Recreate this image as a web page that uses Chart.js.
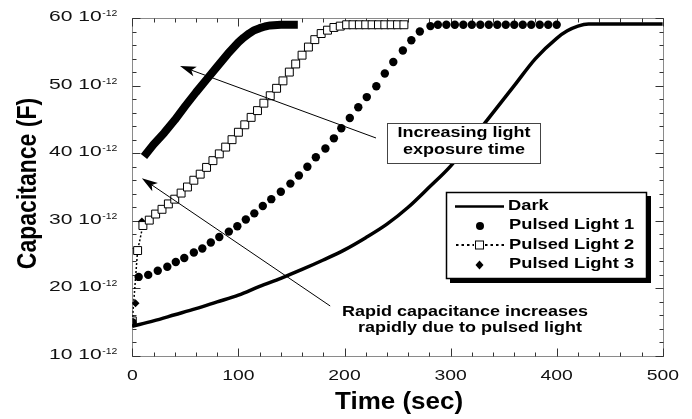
<!DOCTYPE html>
<html>
<head>
<meta charset="utf-8">
<title>Capacitance vs time</title>
<script src="https://cdn.jsdelivr.net/npm/chart.js@4.4.1/dist/chart.umd.min.js"></script>
<style>
  html, body { margin: 0; padding: 0; background: #fff; }
  #wrap { width: 692px; height: 419px; }
</style>
</head>
<body>
<div id="wrap"><canvas id="capChart" width="692" height="419"></canvas></div>
<script>
// capacitance in units of 10^-12 F, time in sec
const darkTime = [0, 20, 40, 60, 80, 100, 120, 140, 160, 180, 200, 220, 240, 260, 280, 300, 320, 340, 360, 380, 400, 410, 420, 430, 500];
const darkCap  = [14.4, 15.2, 16.1, 17.0, 18.0, 19.0, 20.3, 21.5, 22.8, 24.2, 25.7, 27.5, 29.5, 32.0, 35.0, 38.1, 42.0, 46.0, 50.0, 54.0, 57.0, 58.1, 58.8, 59.1, 59.1];

const pulse1Time = [0, 6, 15, 24, 33, 41, 49, 58, 66, 74, 82, 91, 99, 107, 115, 123, 131, 140, 149, 157, 165, 173, 182, 190, 197,
                    205, 213, 221, 230, 238, 246, 255, 263, 271, 281, 288, 296, 304, 312, 320, 328, 336, 344, 352, 360, 368, 376, 384, 392, 400];
const pulse1Cap  = [15.0, 21.7, 22.0, 22.6, 23.2, 23.9, 24.5, 25.3, 25.9, 26.8, 27.6, 28.4, 29.2, 30.2, 31.1, 32.2, 33.2, 34.3, 35.5, 36.7, 38.0, 39.4, 40.7, 42.2, 43.7,
                    45.2, 46.8, 48.3, 49.9, 51.8, 53.5, 55.2, 56.7, 58.0, 58.8, 59.0, 59.0, 59.0, 59.0, 59.0, 59.0, 59.0, 59.0, 59.0, 59.0, 59.0, 59.0, 59.0, 59.0, 59.0];

const pulse2Time = [0, 5, 10, 16, 22, 28, 34, 40, 46, 52, 58, 64, 70, 76, 82, 88, 94, 100, 106, 112, 118, 124, 130, 136, 142, 148,
                    154, 160, 166, 172, 178, 184, 190, 196, 202, 208, 214, 220, 226, 232, 238, 244, 250, 256];
const pulse2Cap  = [15.2, 25.6, 29.3, 30.1, 31.0, 31.7, 32.5, 33.2, 34.1, 35.0, 36.0, 36.9, 37.9, 38.9, 39.9, 40.9, 42.0, 43.1, 44.2, 45.3, 46.3, 47.4, 48.5, 49.6, 50.7, 52.0,
                    53.2, 54.5, 55.7, 56.8, 57.7, 58.2, 58.6, 58.8, 59.0, 59.0, 59.0, 59.0, 59.0, 59.0, 59.0, 59.0, 59.0, 59.0];

const pulse3Time = [0, 3, 9, 11, 20, 30, 40, 50, 60, 70, 80, 90, 100, 105, 110, 115, 120, 125, 130, 140, 156];
const pulse3Cap  = [14.8, 17.8, 29.9, 39.5, 41.3, 43.0, 44.9, 47.0, 49.0, 50.9, 52.8, 54.7, 56.4, 57.1, 57.7, 58.2, 58.5, 58.75, 58.9, 59.0, 59.0];

const xTickValues = [0, 100, 200, 300, 400, 500];
const yTickValues = [10, 20, 30, 40, 50, 60];
const seriesNames = ['Dark', 'Pulsed Light 1', 'Pulsed Light 2', 'Pulsed Light 3'];

const FONT = '"Liberation Sans", Arial, Helvetica, sans-serif';

function toPoints(times, values) {
    return times.map((t, i) => ({ x: t, y: values[i] }));
}

// the scanned original is stretched sideways, so text gets an x scale
function stretchText(ctx, text, x, y, size, weight, sx, align) {
    ctx.save();
    ctx.translate(x, y);
    ctx.scale(sx, 1);
    ctx.font = weight + ' ' + size + 'px ' + FONT;
    ctx.textAlign = align;
    ctx.textBaseline = 'alphabetic';
    ctx.fillText(text, 0, 0);
    ctx.restore();
}

function drawArrow(ctx, x0, y0, x1, y1) {
    const ang = Math.atan2(y1 - y0, x1 - x0);
    ctx.beginPath();
    ctx.moveTo(x0, y0);
    ctx.lineTo(x1 - 10 * Math.cos(ang), y1 - 10 * Math.sin(ang));
    ctx.stroke();
    // head
    ctx.save();
    ctx.translate(x1, y1);
    ctx.rotate(ang);
    ctx.beginPath();
    ctx.moveTo(0, 0);
    ctx.lineTo(-16, -5);
    ctx.lineTo(-12, 0);
    ctx.lineTo(-16, 5);
    ctx.closePath();
    ctx.fill();
    ctx.restore();
}

// frame with inward ticks on all four sides, tick labels and axis titles
function drawAxes(chart) {
    const { ctx, chartArea: a, scales: { x, y } } = chart;
    const L = Math.round(a.left) + 0.5, R = Math.round(a.right) + 0.5;
    const T = Math.round(a.top) + 0.5, B = Math.round(a.bottom) + 0.5;
    ctx.save();
    ctx.strokeStyle = '#8a8a8a';
    ctx.lineWidth = 1;
    ctx.strokeRect(L, T, R - L, B - T);

    ctx.strokeStyle = '#333';
    ctx.beginPath();
    for (let v = 0; v <= 500; v += 20) {
        const px = Math.round(x.getPixelForValue(v)) + 0.5;
        const len = v % 100 === 0 ? 8 : 4;
        ctx.moveTo(px, B); ctx.lineTo(px, B - len);
        ctx.moveTo(px, T); ctx.lineTo(px, T + len);
    }
    for (let v = 10; v <= 60; v += 2) {
        const py = Math.round(y.getPixelForValue(v)) + 0.5;
        const len = v % 10 === 0 ? 8 : 4;
        ctx.moveTo(L, py); ctx.lineTo(L + len, py);
        ctx.moveTo(R, py); ctx.lineTo(R - len, py);
    }
    ctx.stroke();

    ctx.fillStyle = '#111';
    xTickValues.forEach(v => {
        stretchText(ctx, String(v), x.getPixelForValue(v), a.bottom + 23.5, 15.5, 'normal', 1.25, 'center');
    });
    yTickValues.forEach(v => {
        const py = y.getPixelForValue(v) + 3;
        const right = a.left - 15;
        ctx.font = 'normal 9.5px ' + FONT;
        const supW = ctx.measureText('-12').width * 1.1;
        stretchText(ctx, '-12', right - supW, py - 5, 9.5, 'normal', 1.1, 'left');
        stretchText(ctx, v + ' 10', right - supW - 0.5, py, 15.5, 'normal', 1.36, 'right');
    });

    ctx.fillStyle = '#000';
    stretchText(ctx, 'Time (sec)', (a.left + a.right) / 2 + 1.5, a.bottom + 52.5, 23, 'bold', 1.13, 'center');

    // rotated y title
    ctx.save();
    ctx.translate(36, (a.top + a.bottom) / 2 - 3.5);
    ctx.scale(1.21, 1);
    ctx.rotate(-Math.PI / 2);
    ctx.font = 'bold 23px ' + FONT;
    ctx.textAlign = 'center';
    ctx.textBaseline = 'alphabetic';
    ctx.fillText('Capacitance (F)', 0, 0);
    ctx.restore();
    ctx.restore();
}

// arrows, notes and the boxed legend
function drawNotes(chart) {
    const { ctx, scales: { x, y } } = chart;
    ctx.save();
    ctx.strokeStyle = '#000';
    ctx.fillStyle = '#000';
    ctx.lineWidth = 1;
    drawArrow(ctx, x.getPixelForValue(229.7), y.getPixelForValue(42.25), x.getPixelForValue(45), y.getPixelForValue(52.9));
    drawArrow(ctx, x.getPixelForValue(186.5), y.getPixelForValue(17.4), x.getPixelForValue(9), y.getPixelForValue(36.3));

    // "Increasing light exposure time" box
    ctx.fillStyle = '#fff';
    ctx.fillRect(387, 123, 154, 41);
    ctx.strokeStyle = '#444';
    ctx.strokeRect(387.5, 123.5, 153, 40);
    ctx.fillStyle = '#000';
    stretchText(ctx, 'Increasing light', 464, 136.5, 15, 'bold', 1.2, 'center');
    stretchText(ctx, 'exposure time', 464, 154, 15, 'bold', 1.2, 'center');

    stretchText(ctx, 'Rapid capacitance increases', 465, 316, 15, 'bold', 1.2, 'center');
    stretchText(ctx, 'rapidly due to pulsed light', 470, 332, 15, 'bold', 1.2, 'center');

    // legend box with heavy shadow
    ctx.fillStyle = '#000';
    ctx.fillRect(450, 196, 201, 87);
    ctx.fillStyle = '#fff';
    ctx.fillRect(446, 192, 201, 87);
    ctx.strokeStyle = '#000';
    ctx.lineWidth = 1.5;
    ctx.strokeRect(446.5, 192.5, 200, 86);

    const rows = [206.5, 226, 245, 265];
    const base = [210, 229, 248.5, 267.5];
    ctx.fillStyle = '#000';
    ctx.lineWidth = 2.5;
    ctx.beginPath();
    ctx.moveTo(455, rows[0]); ctx.lineTo(504, rows[0]);
    ctx.stroke();

    ctx.beginPath();
    ctx.arc(480, rows[1], 4, 0, Math.PI * 2);
    ctx.fill();

    ctx.lineWidth = 2;
    ctx.setLineDash([2.5, 3]);
    ctx.beginPath();
    ctx.moveTo(456, rows[2]); ctx.lineTo(474, rows[2]);
    ctx.moveTo(485, rows[2]); ctx.lineTo(506, rows[2]);
    ctx.stroke();
    ctx.setLineDash([]);
    ctx.lineWidth = 1;
    ctx.fillStyle = '#fff';
    ctx.fillRect(475.5, rows[2] - 4, 8, 8);
    ctx.strokeRect(475.5, rows[2] - 4, 8, 8);

    ctx.fillStyle = '#000';
    ctx.beginPath();
    ctx.moveTo(479.5, rows[3] - 4.5);
    ctx.lineTo(483.5, rows[3]);
    ctx.lineTo(479.5, rows[3] + 4.5);
    ctx.lineTo(475.5, rows[3]);
    ctx.closePath();
    ctx.fill();

    seriesNames.forEach((name, i) => {
        stretchText(ctx, name, i === 0 ? 508 : 509, base[i], 15, 'bold', 1.22, 'left');
    });
    ctx.restore();
}

const notesPlugin = {
    id: 'notes',
    beforeDatasetsDraw(chart) { drawAxes(chart); },
    afterDatasetsDraw(chart) { drawNotes(chart); }
};

const ctx = document.getElementById('capChart').getContext('2d');
const capChart = new Chart(ctx, {
    type: 'line',
    data: {
        datasets: [
            {
                label: seriesNames[0],
                data: toPoints(darkTime, darkCap),
                borderColor: '#000',
                borderWidth: 3.5,
                pointRadius: 0,
                cubicInterpolationMode: 'monotone'
            },
            {
                label: seriesNames[1],
                data: toPoints(pulse1Time, pulse1Cap),
                showLine: false,
                pointStyle: 'circle',
                pointRadius: 4.2,
                pointBackgroundColor: '#000',
                pointBorderColor: '#000',
                pointBorderWidth: 0
            },
            {
                label: seriesNames[2],
                data: toPoints(pulse2Time, pulse2Cap),
                borderColor: '#000',
                borderWidth: 1.5,
                borderDash: [2, 2],
                pointStyle: 'rect',
                pointRadius: 5.6,
                pointBackgroundColor: '#fff',
                pointBorderColor: '#000',
                pointBorderWidth: 1
            },
            {
                label: seriesNames[3],
                data: toPoints(pulse3Time, pulse3Cap),
                borderColor: '#000',
                borderWidth: 8,
                borderCapStyle: 'butt',
                borderJoinStyle: 'round',
                pointStyle: 'rectRot',
                pointRadius: c => c.dataIndex < 3 ? 4 : 0,
                pointBackgroundColor: '#000',
                pointBorderColor: '#000',
                pointBorderWidth: 0,
                segment: {
                    borderColor: c => c.p0DataIndex < 3 ? 'rgba(0,0,0,0)' : '#000'
                }
            }
        ]
    },
    options: {
        responsive: false,
        animation: false,
        devicePixelRatio: 1,
        events: [],
        layout: { padding: { top: 18, right: 29.2, left: 0, bottom: 0 } },
        plugins: {
            legend: { display: false },
            tooltip: { enabled: false }
        },
        scales: {
            x: {
                type: 'linear', min: 0, max: 500,
                grid: { display: false }, border: { display: false },
                ticks: { display: false },
                afterFit: s => { s.height = 63; }
            },
            y: {
                type: 'linear', min: 10, max: 60,
                grid: { display: false }, border: { display: false },
                ticks: { display: false },
                afterFit: s => { s.width = 132.3; }
            }
        }
    },
    plugins: [notesPlugin]
});
</script>
</body>
</html>
